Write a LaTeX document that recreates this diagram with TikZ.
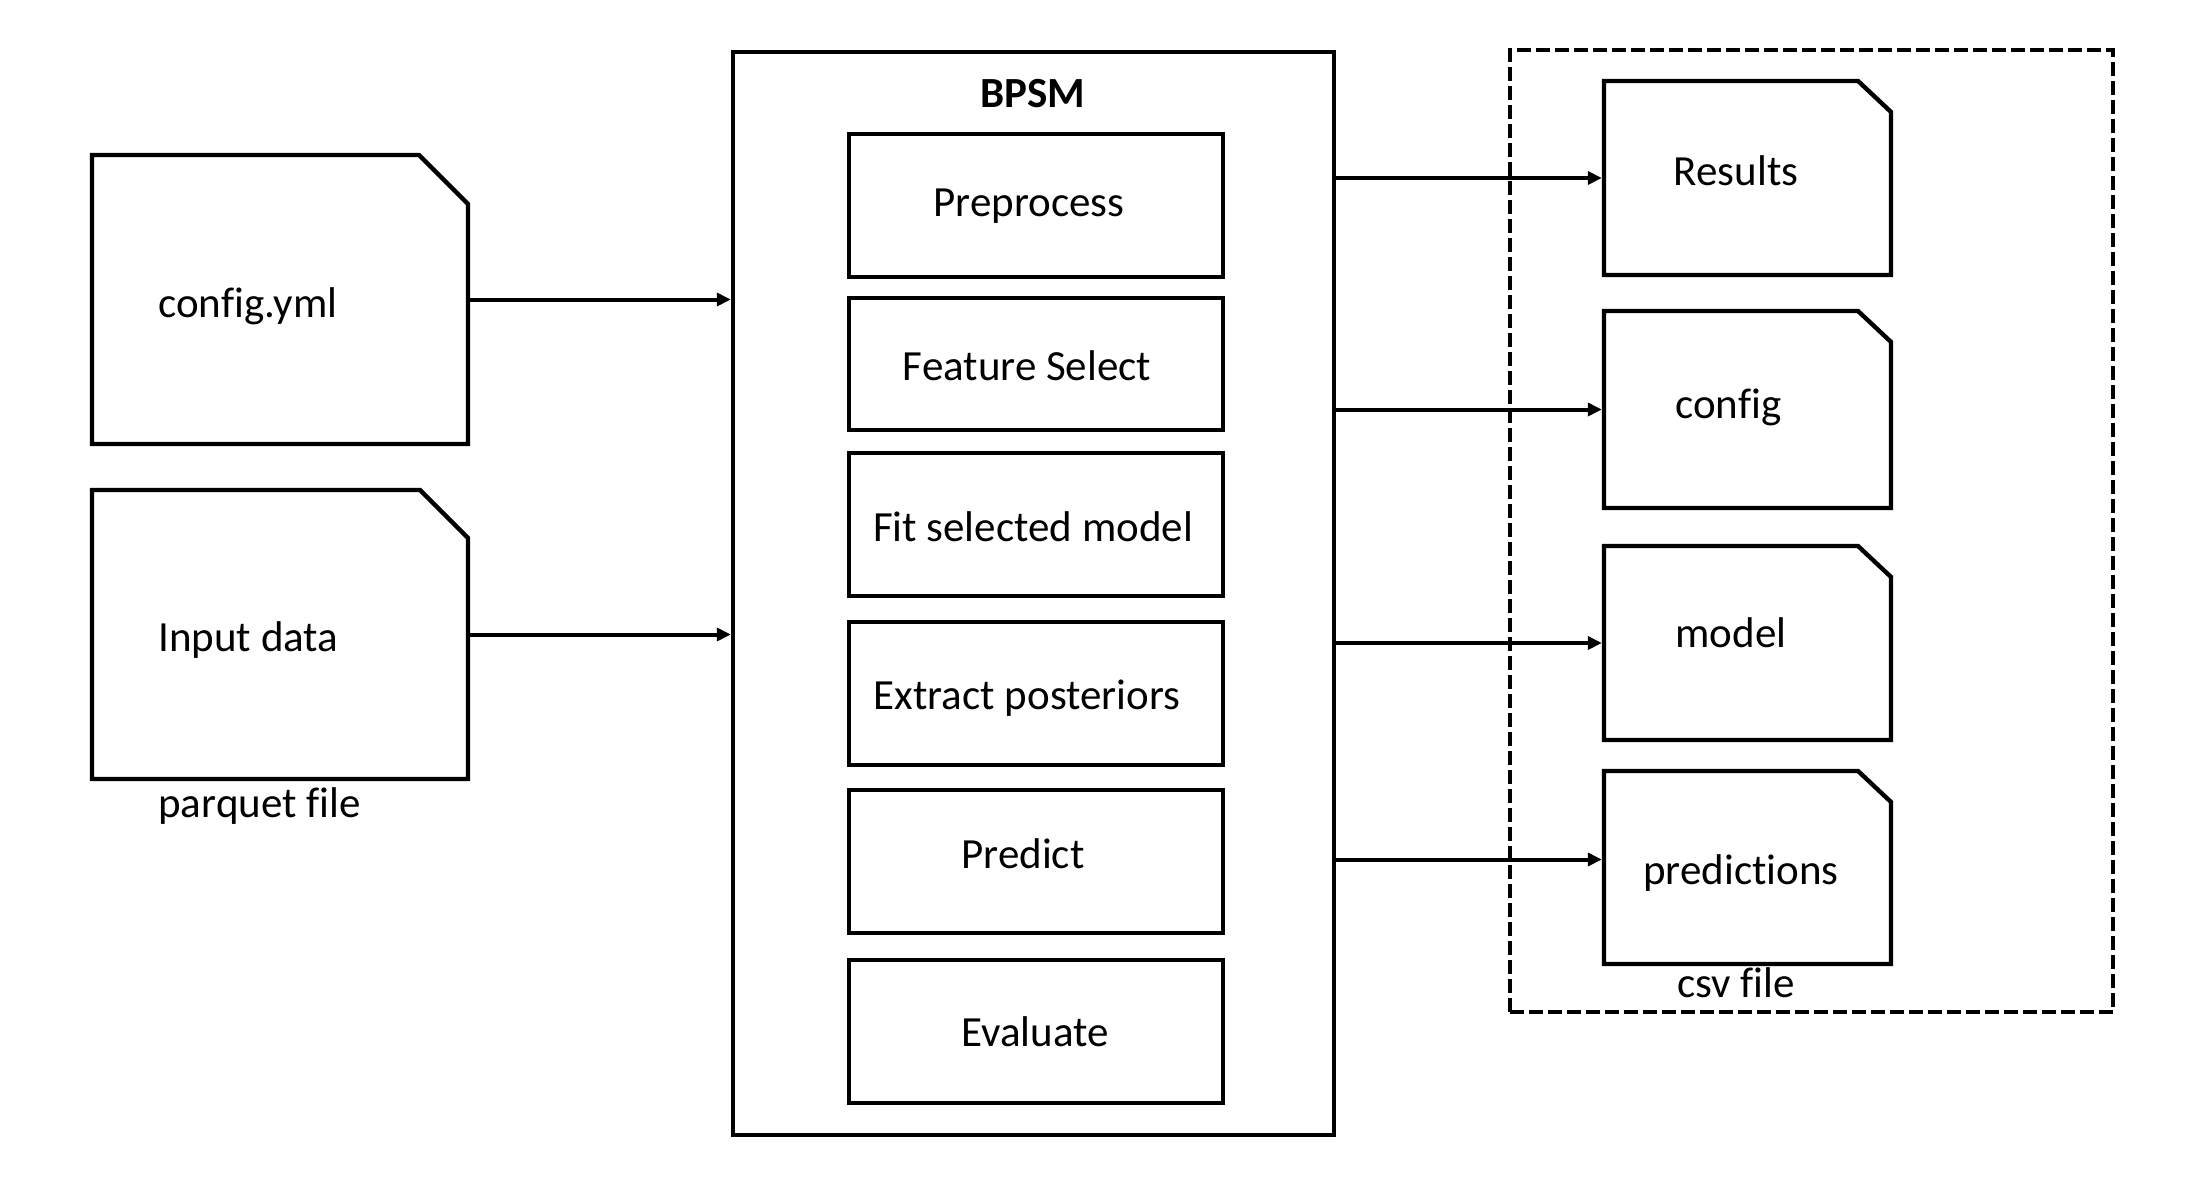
\documentclass[tikz,border=0pt]{standalone}
\usepackage{fontspec}
\setmainfont[Ligatures=NoCommon]{Carlito}
\usetikzlibrary{arrows.meta,calc}
\newcommand\docpath[3]{\draw[docline] (#1.north west) -- ($(#1.north east)+(-#2,0)$) -- ($(#1.north east)+(0,#3)$) -- (#1.south east) -- (#1.south west) -- cycle;}
\begin{document}
\begin{tikzpicture}[x=0.5pt,y=-0.5pt,
  every node/.style={font=\fontsize{21.5}{26}\selectfont},
  frame/.style={draw, line width=2.2pt, inner sep=0pt},
  stagebox/.style={frame, minimum width=187pt, minimum height=71.5pt},
  docarea/.style={inner sep=0pt, outer sep=0pt, minimum width=#1},
  docline/.style={line width=2.2pt, line join=miter},
  arr/.style={line width=2pt, -{Triangle[length=7pt,width=6.5pt]}},
  arrd/.style={arr, shorten >=1.1pt},
  txt/.style={inner sep=0pt, anchor=base west},
  ctxt/.style={inner sep=0pt, anchor=base},
]
\useasboundingbox (0,0) rectangle (2190,1204);

% left documents
\node[docarea=188pt, minimum height=144.5pt] (cfg) at (280,299.5) {};
\node[docarea=188pt, minimum height=144.5pt] (inp) at (280,634.5) {};
\docpath{cfg}{49}{49}
\docpath{inp}{48}{48}
\node[txt] (cfgt) at (158,317) {config.yml};
\node[txt] (inpt) at (158,651) {Input data};
\node[txt] (parq) at (158,817) {parquet file};

% BPSM container
\node[frame, minimum width=300.5pt, minimum height=541.5pt] (bpsm) at (1033.5,593.5) {};
\node[ctxt, font=\fontsize{21.5}{26}\selectfont\bfseries] (bpsmt) at (1033,108) {BPSM};

\node[stagebox] (pre) at (1036,205.5) {};
\node[stagebox, minimum height=66pt] (fs) at (1036,364) {};
\node[stagebox] (fit) at (1036,524.5) {};
\node[stagebox] (ext) at (1036,693.5) {};
\node[stagebox] (prd) at (1036,861.5) {};
\node[stagebox] (ev) at (1036,1031.5) {};
\node[ctxt] (pret) at (1029,216) {Preprocess};
\node[ctxt] (fst) at (1027,380) {Feature Select};
\node[ctxt] (fitt) at (1033,541) {Fit selected model};
\node[ctxt] (extt) at (1027,709) {Extract posteriors};
\node[ctxt] (prdt) at (1023,868) {Predict};
\node[ctxt] (evt) at (1035,1046) {Evaluate};

% output area
\node[draw, line width=2.2pt, dash pattern=on 7pt off 2.5pt, inner sep=0pt,
      minimum width=301.5pt, minimum height=481pt] (outarea) at (1811.5,531) {};
\node[docarea=143.5pt, minimum height=97pt] (res) at (1747.5,178) {};
\node[docarea=143.5pt, minimum height=98.5pt] (cfo) at (1747.5,409.5) {};
\node[docarea=143.5pt, minimum height=97pt] (mdl) at (1747.5,643) {};
\node[docarea=143.5pt, minimum height=96.5pt] (pred) at (1747.5,867.5) {};
\docpath{res}{33}{31}
\docpath{cfo}{33}{31}
\docpath{mdl}{33}{31}
\docpath{pred}{33}{31}
\node[ctxt] (rest) at (1736,185) {Results};
\node[txt] (cfot) at (1675,418) {config};
\node[txt] (mdlt) at (1675,647) {model};
\node[ctxt] (predt) at (1741,884) {predictions};
\node[ctxt] (csv) at (1736,997) {csv file};

% connectors
\draw[arr] (cfg.east) -- (bpsm.west |- cfg.east);
\draw[arr] (inp.east) -- (bpsm.west |- inp.east);
\draw[arrd] (bpsm.east |- res.west) -- (res.west);
\draw[arrd] (bpsm.east |- cfo.west) -- (cfo.west);
\draw[arrd] (bpsm.east |- mdl.west) -- (mdl.west);
\draw[arrd] ($(bpsm.east |- pred.west)+(0,-8)$) -- ($(pred.west)+(0,-8)$);
\end{tikzpicture}
\end{document}
